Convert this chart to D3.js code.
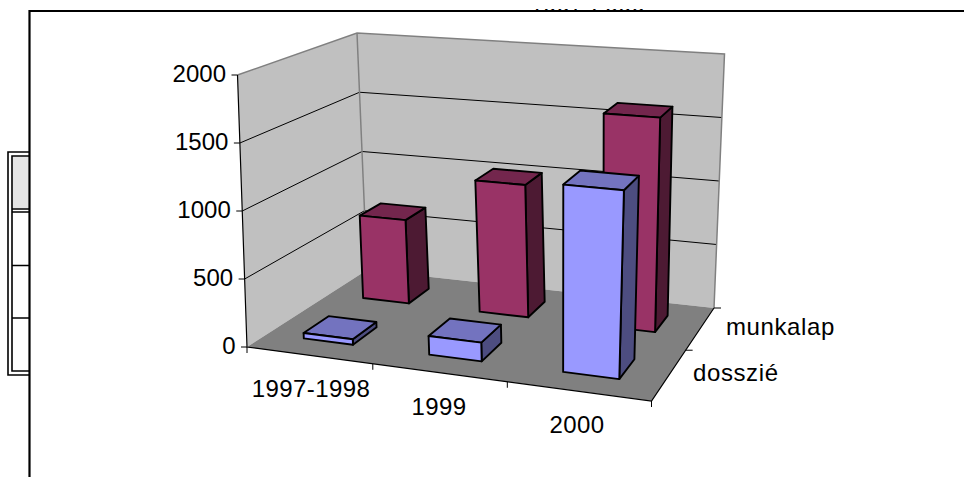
<!DOCTYPE html>
<html><head><meta charset="utf-8">
<script src="https://cdn.jsdelivr.net/npm/d3@7"></script>
<style>html,body{margin:0;background:#fff}svg{display:block}text{font-family:"Liberation Sans",Arial,sans-serif;fill:#000}</style>
</head><body><svg id="c" width="964" height="477"></svg>
<script>
const categories = ["1997-1998","1999","2000"];
const seriesNames = ["dosszié","munkalap"];
const dosszie = [40,135,1335];
const munkalap = [660,1025,1625];
const valueTicks = [0,500,1000,1500,2000];
const titleVisible = "1997-2000";

// screen anchors of the chart box (layout): [front-left, front-right, back-right, back-left]
const floorCorners = [[247,347],[651.5,401],[714,308],[367,270]];
const ceilCorners  = [[237.5,75],[665,110],[724.5,54],[357,33]];

function homography(q){ // unit square -> quad
  const [p0,p1,p2,p3]=q;
  const dx1=p1[0]-p2[0],dx2=p3[0]-p2[0],sx=p0[0]-p1[0]+p2[0]-p3[0];
  const dy1=p1[1]-p2[1],dy2=p3[1]-p2[1],sy=p0[1]-p1[1]+p2[1]-p3[1];
  const d=dx1*dy2-dx2*dy1;
  const g=(sx*dy2-dx2*sy)/d,h=(dx1*sy-sx*dy1)/d;
  const a=p1[0]-p0[0]+g*p1[0],b=p3[0]-p0[0]+h*p3[0],c=p0[0];
  const e=p1[1]-p0[1]+g*p1[1],f=p3[1]-p0[1]+h*p3[1],k=p0[1];
  return (u,v)=>{const w=g*u+h*v+1;return [(a*u+b*v+c)/w,(e*u+f*v+k)/w];};
}
const floorH=homography(floorCorners), ceilH=homography(ceilCorners);
const yScale=d3.scaleLinear().domain([0,2000]).range([0,1]);
const uScale=d3.scaleBand().domain(categories).range([0,1]).paddingInner(0.6).paddingOuter(0.3);
const vScale=d3.scaleBand().domain(seriesNames).range([0,1]).paddingInner(0.6).paddingOuter(0.3);
const P=(u,v,val)=>{const a=floorH(u,v),b=ceilH(u,v),w=yScale(val);return [a[0]+(b[0]-a[0])*w,a[1]+(b[1]-a[1])*w];};
const path=pts=>d3.line()(pts)+"Z";

const svg=d3.select("#c");
svg.append("defs").append("clipPath").attr("id","tclip").append("rect").attr("x",0).attr("y",9).attr("width",964).attr("height",2);

// Walls and floor
const maxV=2000;
svg.append("path").attr("d",path([P(0,0,0),P(0,1,0),P(0,1,maxV),P(0,0,maxV)])).attr("fill","#c0c0c0");
svg.append("path").attr("d",path([P(0,1,0),P(1,1,0),P(1,1,maxV),P(0,1,maxV)])).attr("fill","#c0c0c0");
svg.append("path").attr("d",path([P(0,0,0),P(1,0,0),P(1,1,0),P(0,1,0)])).attr("fill","#808080");

// Gridlines
svg.append("g").selectAll("path").data(valueTicks.filter(d=>d>0&&d<2000)).join("path")
 .attr("d",d=>d3.line()([P(0,0,d),P(0,1,d),P(1,1,d)])).attr("fill","none").attr("stroke","#000").attr("stroke-width",1);

// Wall edges
svg.append("path").attr("d",d3.line()([P(0,0,maxV),P(0,1,maxV),P(1,1,maxV),P(1,1,0)])).attr("fill","none").attr("stroke","#808080").attr("stroke-width",1.5);
svg.append("path").attr("d",d3.line()([P(0,1,maxV),P(0,1,0)])).attr("fill","none").attr("stroke","#808080").attr("stroke-width",1.5);
// Axes
svg.append("path").attr("d",d3.line()([P(0,0,maxV),P(0,0,0),P(1,0,0),P(1,1,0)])).attr("fill","none").attr("stroke","#000").attr("stroke-width",1.2);

// y ticks
const yt=svg.append("g").selectAll("g").data(valueTicks).join("g");
yt.append("line").attr("x1",d=>P(0,0,d)[0]-6).attr("x2",d=>P(0,0,d)[0]).attr("y1",d=>P(0,0,d)[1]).attr("y2",d=>P(0,0,d)[1]).attr("stroke","#000");
yt.append("text").text(d=>d).attr("x",d=>P(0,0,d)[0]-11.5).attr("y",d=>P(0,0,d)[1]+7).attr("text-anchor","end").attr("font-size",24);

// category ticks
const uStep=uScale.step();
svg.append("g").selectAll("line").data(d3.range(categories.length+1)).join("line")
 .attr("x1",i=>P(i*uStep,0,0)[0]).attr("x2",i=>P(i*uStep,0,0)[0])
 .attr("y1",i=>P(i*uStep,0,0)[1]).attr("y2",i=>P(i*uStep,0,0)[1]+6).attr("stroke","#000");
// series ticks
svg.append("g").selectAll("line").data([0.5,1]).join("line")
 .attr("x1",v=>P(1,v,0)[0]).attr("x2",v=>P(1,v,0)[0]+7)
 .attr("y1",v=>P(1,v,0)[1]).attr("y2",v=>P(1,v,0)[1]).attr("stroke","#000");

// Bars
const palette=[{front:"#9999ff",top:"#7373bf",side:"#4d4d80"},{front:"#993366",top:"#73264d",side:"#4d1a33"}];
function bar(g,cat,si,val){
  const u0=uScale(cat),u1=u0+uScale.bandwidth();
  const v0=vScale(seriesNames[si]),v1=v0+vScale.bandwidth();
  const c=palette[si];
  const faces=[
   {d:[P(u1,v0,0),P(u1,v1,0),P(u1,v1,val),P(u1,v0,val)],f:c.side},
   {d:[P(u0,v0,val),P(u1,v0,val),P(u1,v1,val),P(u0,v1,val)],f:c.top},
   {d:[P(u0,v0,0),P(u1,v0,0),P(u1,v0,val),P(u0,v0,val)],f:c.front}];
  g.selectAll("path").data(faces).join("path").attr("d",d=>path(d.d)).attr("fill",d=>d.f)
   .attr("stroke","#000").attr("stroke-width",1.9).attr("stroke-linejoin","round");
}
[munkalap,dosszie].forEach((vals,k)=>{
  const si=k===0?1:0;
  categories.forEach((cat,i)=>bar(svg.append("g"),cat,si,vals[i]));
});

// Category labels
svg.append("g").selectAll("text").data(categories).join("text").text(d=>d)
 .attr("x",(d,i)=>[311,439,577][i])
 .attr("y",(d,i)=>[397,415,433][i]).attr("text-anchor","middle").attr("font-size",24).attr("letter-spacing",0.4);
// Series labels
svg.append("g").selectAll("text").data(seriesNames).join("text").text(d=>d)
 .attr("x",(d,i)=>[693,726][i]).attr("y",(d,i)=>[381,335][i]).attr("font-size",24).attr("letter-spacing",0.6);

// Left box
const box=svg.append("g").attr("fill","none").attr("stroke","#000").attr("stroke-width",1.6);
box.append("rect").attr("x",12.5).attr("y",156.5).attr("width",17).attr("height",52).attr("fill","#e5e5e5").attr("stroke","none");
box.append("path").attr("d","M30 152H8V375H30M30 156H12V371H30");
box.append("path").attr("d","M12 209H30M12 212H30M12 265.5H30M12 318H30");

// Frame
svg.append("path").attr("d","M964 11H29.5V477").attr("fill","none").attr("stroke","#000").attr("stroke-width",2.2);

// Title: only the bottom sliver shows above the frame
svg.append("text").text(titleVisible).attr("x",530).attr("y",11.5).attr("font-size",24).attr("clip-path","url(#tclip)");
</script></body></html>
